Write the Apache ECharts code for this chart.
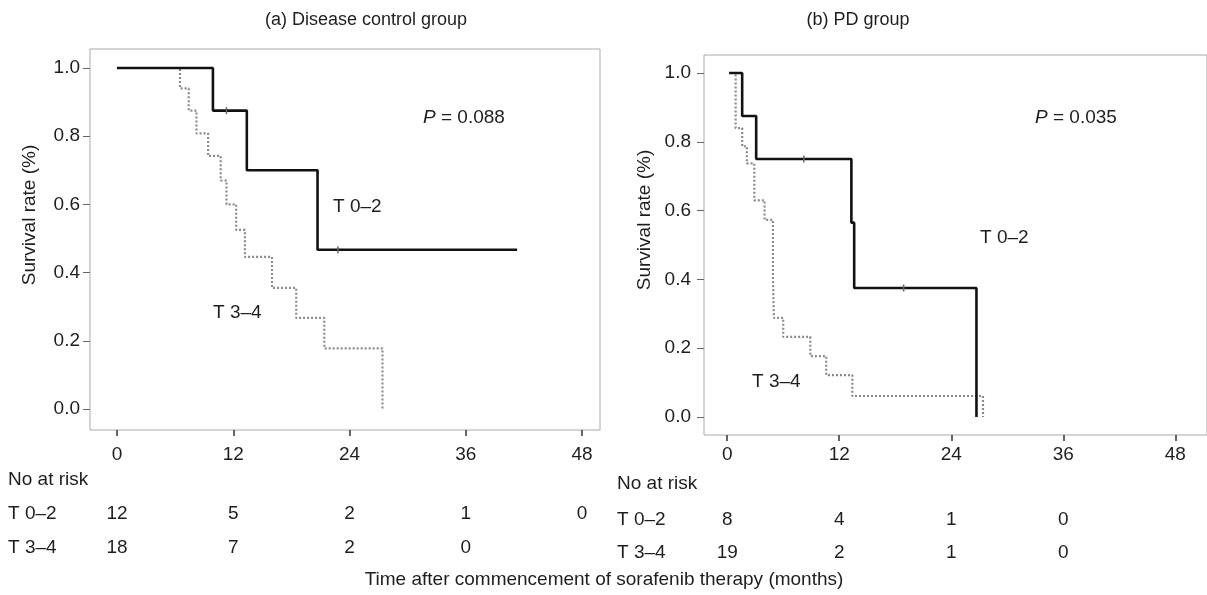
<!DOCTYPE html>
<html>
<head>
<meta charset="utf-8">
<script src="https://cdn.jsdelivr.net/npm/echarts@6/dist/echarts.min.js"></script>
<style>
  html, body { margin: 0; padding: 0; background: #fff; }
  #main { width: 1207px; height: 595px; }
</style>
</head>
<body>
<div id="main"></div>
<script>
// survival curves, [month, survival]
var dcLowT = [[0,1],[9.9,0.875],[13.4,0.70],[20.7,0.467],[41.3,0.467]];
var dcHighT = [[0,1],[6.5,0.94],[7.4,0.875],[8.2,0.808],[9.4,0.742],[10.7,0.67],[11.3,0.60],
               [12.3,0.525],[13.2,0.446],[16.0,0.355],[18.5,0.267],[21.4,0.178],[27.4,0]];
var pdLowT = [[0.2,1],[1.6,0.875],[3.1,0.75],[13.3,0.565],[13.6,0.375],[26.7,0]];
var pdHighT = [[0.2,1],[0.9,0.84],[1.6,0.787],[2.1,0.737],[2.9,0.63],[4.0,0.573],[4.9,0.40],
               [5.0,0.288],[6.0,0.233],[8.9,0.177],[10.6,0.122],[13.4,0.061],[27.4,0]];
// censor marks on the solid curves
var dcLowCensor = [[11.3,0.875],[22.8,0.467]];
var pdLowCensor = [[8.2,0.75],[18.9,0.375]];

var xTicks = [0,12,24,36,48];
var yTicks = [0,0.2,0.4,0.6,0.8,1.0];
var rowNames = ['T 0\u20132','T 3\u20134'];
var dcRiskLow = [12,5,2,1,0];
var dcRiskHigh = [18,7,2,0];
var pdRiskLow = [8,4,1,0];
var pdRiskHigh = [19,2,1,0];

var FONT = '"Liberation Sans", Arial, Helvetica, sans-serif';
var TXT = '#1e1e1e';
var FS = 19;

var chart = echarts.init(document.getElementById('main'));

function riskData(low, high) {
  var list = [];
  for (var i = 0; i < low.length; i++) list.push([xTicks[i], 0, low[i]]);
  for (var j = 0; j < high.length; j++) list.push([xTicks[j], 1, high[j]]);
  return list;
}

function plotX(idx, min, max, margin) {
  return {
    gridIndex: idx, type: 'value', min: min, max: max,
    axisLine: {show: false, onZero: false},
    axisTick: {show: true, customValues: xTicks, length: 6, lineStyle: {color: '#333', width: 1.5}},
    axisLabel: {customValues: xTicks, margin: margin, color: TXT, fontSize: FS, fontFamily: FONT},
    splitLine: {show: false}
  };
}
function plotY(idx, min, max, margin) {
  return {
    gridIndex: idx, type: 'value', min: min, max: max,
    axisLine: {show: false, onZero: false},
    axisTick: {show: true, customValues: yTicks, length: 7, lineStyle: {color: '#666'}},
    axisLabel: {customValues: yTicks, margin: margin, color: TXT, fontSize: FS, fontFamily: FONT,
                formatter: function (v) { return v.toFixed(1); }},
    splitLine: {show: false}
  };
}
function tableX(idx, min, max) {
  return {gridIndex: idx, type: 'value', min: min, max: max, show: false};
}
function tableY(idx, margin) {
  return {
    gridIndex: idx, type: 'category', data: rowNames, inverse: true,
    axisLine: {show: false}, axisTick: {show: false},
    axisLabel: {align: 'left', margin: margin, color: TXT, fontSize: FS, fontFamily: FONT}
  };
}
function curve(name, idx, data, solid) {
  return {
    name: name, type: 'line', xAxisIndex: idx, yAxisIndex: idx, data: data,
    step: 'end', symbol: 'none', z: solid ? 5 : 4, silent: true,
    lineStyle: solid ? {color: '#111', width: 2.6}
                     : {color: '#8a8a8a', width: 2.2, type: [2, 2]}
  };
}
function censor(idx, data) {
  return {
    type: 'scatter', xAxisIndex: idx, yAxisIndex: idx, data: data, silent: true,
    symbol: 'rect', symbolSize: [1.5, 7], itemStyle: {color: '#666', opacity: 1}, z: 6
  };
}
function risk(idx, data) {
  return {
    type: 'scatter', xAxisIndex: idx, yAxisIndex: idx, data: data, silent: true,
    symbolSize: 1, itemStyle: {color: 'transparent', opacity: 1},
    label: {show: true, position: 'inside', color: TXT, fontSize: FS, fontFamily: FONT,
            formatter: function (p) { return String(p.value[2]); }}
  };
}
function txt(x, y, s, opt) {
  var o = {type: 'text', x: x, y: y, silent: true,
    style: {text: s, fill: TXT, font: FS + 'px ' + FONT, textAlign: 'left', textVerticalAlign: 'middle'}};
  if (opt) for (var k in opt) o.style[k] = opt[k];
  return o;
}
function pText(x, y, s) {
  return {type: 'text', x: x, y: y, silent: true,
    style: {text: '{i|P} = ' + s, fill: TXT, font: FS + 'px ' + FONT, textVerticalAlign: 'middle',
            rich: {i: {fontStyle: 'italic', fontSize: FS, fontFamily: FONT, fill: TXT}}}};
}
function yName(x, y) {
  return {type: 'text', x: x, y: y, rotation: Math.PI / 2, silent: true,
    style: {text: 'Survival rate (%)', fill: TXT, font: FS + 'px ' + FONT,
            textAlign: 'center', textVerticalAlign: 'middle'}};
}

var option = {
  backgroundColor: '#fff',
  animation: false,
  grid: [
    {left: 90, top: 49, width: 510, height: 381, show: true, borderColor: '#aaa', borderWidth: 1},
    {left: 704, top: 55, width: 520, height: 380, show: true, borderColor: '#aaa', borderWidth: 1},
    {left: 90, top: 497, width: 510, height: 68},
    {left: 704, top: 503, width: 520, height: 66}
  ],
  xAxis: [
    plotX(0, -2.79, 49.86, 15),
    plotX(1, -2.49, 51.4, 10),
    tableX(2, -2.79, 49.86),
    tableX(3, -2.49, 51.4)
  ],
  yAxis: [
    plotY(0, -0.0616, 1.0557, 10),
    plotY(1, -0.0523, 1.0523, 13),
    tableY(2, 82),
    tableY(3, 87)
  ],
  series: [
    curve('T 3\u20134', 0, dcHighT, false),
    curve('T 0\u20132', 0, dcLowT, true),
    censor(0, dcLowCensor),
    curve('T 3\u20134', 1, pdHighT, false),
    curve('T 0\u20132', 1, pdLowT, true),
    censor(1, pdLowCensor),
    risk(2, riskData(dcRiskLow, dcRiskHigh)),
    risk(3, riskData(pdRiskLow, pdRiskHigh))
  ],
  graphic: [
    txt(366, 20, '(a) Disease control group', {textAlign: 'center', font: '18px ' + FONT}),
    txt(858, 20, '(b) PD group', {textAlign: 'center', font: '18px ' + FONT}),
    yName(30, 215),
    yName(645, 220),
    pText(423, 118, '0.088'),
    pText(1035, 118, '0.035'),
    txt(333, 207, 'T 0\u20132'),
    txt(213, 313, 'T 3\u20134'),
    txt(980, 238, 'T 0\u20132'),
    txt(752, 382, 'T 3\u20134'),
    txt(8, 480, 'No at risk'),
    txt(617, 484, 'No at risk'),
    txt(604, 580, 'Time after commencement of sorafenib therapy (months)', {textAlign: 'center'})
  ]
};
chart.setOption(option);
</script>
</body>
</html>
